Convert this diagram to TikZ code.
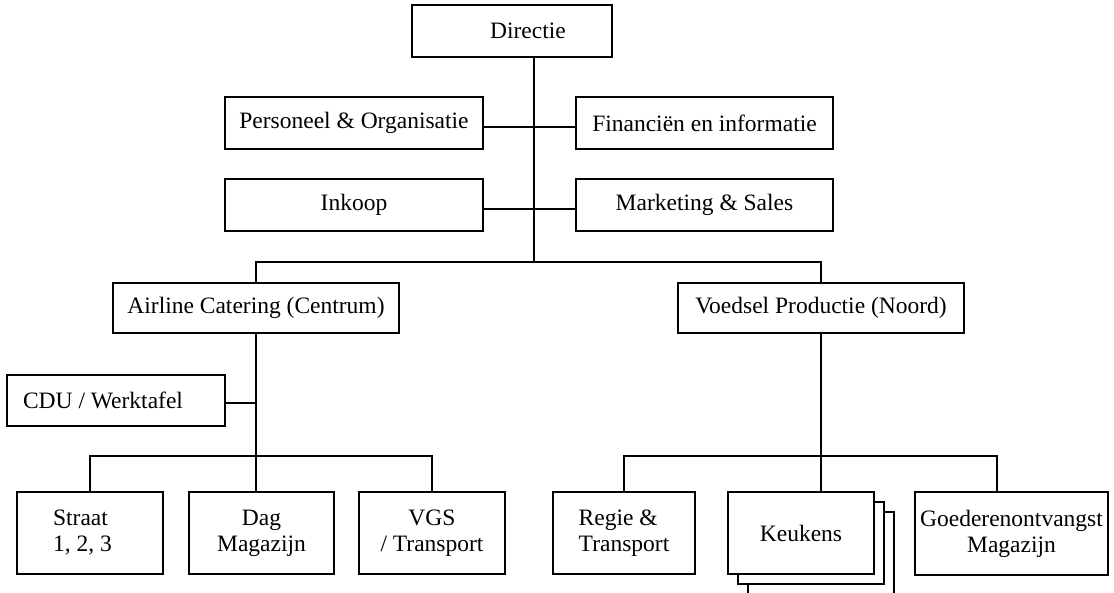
\documentclass[tikz,border=0pt]{standalone}
\usepackage{fontspec}
\setmainfont{Liberation Serif}
\usetikzlibrary{calc}
\begin{document}
\begin{tikzpicture}[x=1pt,y=-1pt,
  box/.style={draw, line width=1.9pt, fill=white, inner sep=0pt, align=center,
              font=\fontsize{23.5}{26}\selectfont},
  conn/.style={line width=1.9pt}]
\useasboundingbox (0,0) rectangle (1114,593);
\clip (0,0) rectangle (1114,593);

% management
\node[box, minimum width=200, minimum height=52] (dir) at (512,31) {\hspace*{32pt}Directie};
\node[box, minimum width=258, minimum height=52] (pers) at (354,123) {Personeel \& Organisatie};
\node[box, minimum width=257, minimum height=52] (fin)  at (704.5,123) {Financiën en informatie};
\node[box, minimum width=258, minimum height=52] (ink)  at (354,205) {Inkoop};
\node[box, minimum width=257, minimum height=52] (mkt)  at (704.5,205) {Marketing \& Sales};

% divisions
\node[box, minimum width=286, minimum height=50] (air) at (256,308) {Airline Catering (Centrum)};
\node[box, minimum width=286, minimum height=50] (voe) at (821,308) {Voedsel Productie (Noord)};
\node[box, minimum width=218, minimum height=51] (cdu) at (116,400.5)
  {\hspace*{-26pt}CDU / Werktafel};

% departments, Airline Catering
\node[box, minimum width=146, minimum height=82, align=left] (str) at (90,533)
  {Straat\\1, 2, 3\hspace*{15pt}};
\node[box, minimum width=145, minimum height=82] (dag) at (261.5,533) {Dag\\Magazijn};
\node[box, minimum width=146, minimum height=82] (vgs) at (432,533) {VGS\\/ Transport};

% departments, Voedsel Productie
\node[box, minimum width=142, minimum height=82, align=left] (reg) at (624,533) {Regie \&\\Transport};
\node[box, minimum width=146, minimum height=82] (keu3) at (821,553) {};
\node[box, minimum width=146, minimum height=82] (keu2) at (811,543) {};
\node[box, minimum width=146, minimum height=82] (keu)  at (801,533) {Keukens};
\node[box, minimum width=193, minimum height=83] (goe) at (1011.5,533.5) {Goederenontvangst\\Magazijn};

% staff lines
\coordinate (bus) at (534,262);
\draw[conn] (dir.south -| bus) -- (bus);
\draw[conn] ($(pers.east)+(0,4)$) -- ($(fin.west)+(0,4)$);
\draw[conn] ($(ink.east)+(0,4)$) -- ($(mkt.west)+(0,4)$);

% division lines
\draw[conn] (air.north) |- (bus) -| (voe.north);

% Airline Catering branch
\coordinate (abus) at (256,456);
\draw[conn] (air.south) -- (abus);
\draw[conn] ($(cdu.east)+(0,2.5)$) -- ($(cdu.east)+(31,2.5)$);
\draw[conn] (str.north) |- (abus) -| (vgs.north);
\draw[conn] (abus) -- (abus |- dag.north);

% Voedsel Productie branch
\coordinate (vbus) at (821,456);
\coordinate (gdrop) at (997,456);
\draw[conn] (voe.south) -- (vbus);
\draw[conn] (reg.north) |- (vbus) -- (gdrop) -- (gdrop |- goe.north);
\draw[conn] (vbus) -- (vbus |- keu.north);
\end{tikzpicture}
\end{document}
